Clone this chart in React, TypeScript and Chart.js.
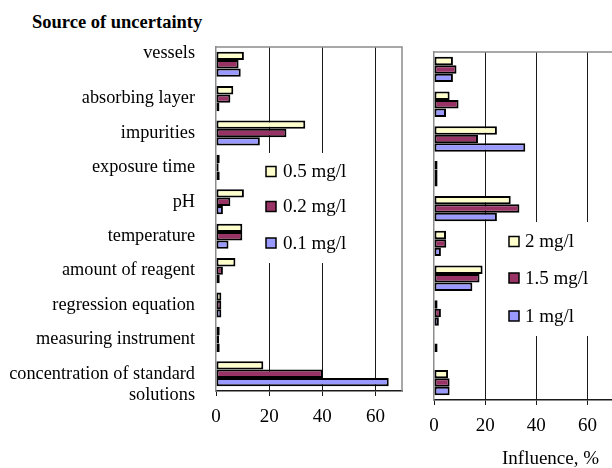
import React, { useEffect, useRef } from "react";
import Chart from "chart.js/auto";

const categories: (string | string[])[] = [
  ["vessels", ""],
  "absorbing layer",
  "impurities",
  "exposure time",
  "pH",
  "temperature",
  "amount of reagent",
  "regression equation",
  "measuring instrument",
  ["", "concentration of standard", "solutions"],
];

const conc05 = [10.5, 6.5, 33.6, 1.4, 10.5, 9.9, 7.3, 2.0, 1.4, 17.8];
const conc02 = [8.5, 5.4, 26.5, 1.0, 5.4, 9.9, 2.6, 2.0, 1.2, 40.2];
const conc01 = [9.3, 1.3, 16.5, 1.4, 2.6, 4.7, 1.4, 2.0, 1.4, 65];

const conc2 = [7.4, 6.1, 24.6, 1.4, 30, 4.7, 19, 1.4, null, 5.5];
const conc15 = [8.8, 9.6, 17.2, 1.4, 33.4, 4.8, 17.8, 2.7, 1.4, 6.1];
const conc1 = [7.4, 4.7, 35.7, 1.4, 24.6, 2.7, 15, 1.9, null, 6.1];

const leftSeries = ["0.5 mg/l", "0.2 mg/l", "0.1 mg/l"];
const rightSeries = ["2 mg/l", "1.5 mg/l", "1 mg/l"];
const xTickValues = [0, 20, 40, 60];
const xMax = 70;

const COLORS = ["#FFFFCC", "#993366", "#9999FF"];
const FONT = '"Liberation Serif", "Times New Roman", serif';

type LegendSpec = {
  rect: [number, number, number, number];
  boxX: number;
  textX: number;
  ys: number[];
  labels: string[];
};

function makeLegendPlugin(spec: LegendSpec) {
  return {
    id: "customLegend",
    afterDraw(chart: any) {
      const ctx = chart.ctx;
      ctx.save();
      ctx.fillStyle = "#ffffff";
      const [x, y, w, h] = spec.rect;
      ctx.fillRect(x, y, w, h);
      ctx.font = `19px ${FONT}`;
      ctx.textBaseline = "middle";
      ctx.textAlign = "left";
      spec.labels.forEach((lab, i) => {
        const cy = spec.ys[i];
        ctx.fillStyle = COLORS[i];
        ctx.fillRect(spec.boxX, cy - 5, 10, 10);
        ctx.strokeStyle = "#000";
        ctx.lineWidth = 1.5;
        ctx.strokeRect(spec.boxX, cy - 5, 10, 10);
        ctx.fillStyle = "#000";
        ctx.fillText(lab, spec.textX, cy + 1);
      });
      ctx.restore();
    },
  };
}

const borderPlugin = {
  id: "frameBorder",
  beforeDatasetsDraw(chart: any) {
    const { ctx, chartArea } = chart;
    ctx.save();
    ctx.strokeStyle = "#8c8c8c";
    ctx.lineWidth = 1.5;
    ctx.beginPath();
    ctx.moveTo(chartArea.left, chartArea.top);
    ctx.lineTo(chartArea.right, chartArea.top);
    ctx.lineTo(chartArea.right, chartArea.bottom);
    ctx.stroke();
    ctx.restore();
  },
};

function buildConfig(
  series: (number | null)[][],
  labels: string[],
  showCats: boolean,
  yWidth: number,
  xHeight: number,
  padding: any,
  legend: LegendSpec
): any {
  return {
    type: "bar",
    data: {
      labels: categories,
      datasets: series.map((d, i) => ({
        label: labels[i],
        data: d,
        backgroundColor: COLORS[i],
        borderColor: "#000",
        borderWidth: 2,
        borderSkipped: false,
        categoryPercentage: 0.73,
        barPercentage: 1,
      })),
    },
    options: {
      indexAxis: "y",
      responsive: false,
      animation: false,
      devicePixelRatio: 1,
      layout: { padding },
      plugins: { legend: { display: false }, tooltip: { enabled: false } },
      scales: {
        x: {
          min: 0,
          max: xMax,
          afterBuildTicks: (scale: any) => {
            scale.ticks = xTickValues.map((v) => ({ value: v }));
          },
          afterFit: (scale: any) => {
            scale.height = xHeight;
          },
          grid: {
            color: (c: any) => (c.tick && c.tick.value === 0 ? "rgba(0,0,0,0)" : "#1a1a1a"),
            tickColor: "#1a1a1a",
            tickLength: 5,
            lineWidth: 1,
          },
          border: { display: true, color: "#1a1a1a", width: 1.5 },
          ticks: {
            color: "#000",
            font: { family: FONT, size: 19 },
            padding: 10,
            maxRotation: 0,
          },
        },
        y: {
          afterFit: (scale: any) => {
            scale.width = yWidth;
          },
          grid: { display: false },
          border: { display: true, color: "#8c8c8c", width: 1.5 },
          ticks: {
            display: showCats,
            autoSkip: false,
            color: "#000",
            font: { family: FONT, size: 18.3, lineHeight: 1.15 },
            padding: 13,
          },
        },
      },
    },
    plugins: [borderPlugin, makeLegendPlugin(legend)],
  };
}

function ChartCanvas({ config, width, height, style }: any) {
  const ref = useRef<HTMLCanvasElement | null>(null);
  useEffect(() => {
    if (!ref.current) return;
    const chart = new Chart(ref.current, config);
    return () => chart.destroy();
  }, []);
  return <canvas ref={ref} width={width} height={height} style={{ position: "absolute", ...style }} />;
}

export default function App() {
  const leftConfig = buildConfig(
    [conc05, conc02, conc01],
    leftSeries,
    true,
    216,
    77,
    { top: 47, right: 8, left: 0, bottom: 0 },
    { rect: [259, 153, 112, 110], boxX: 266, textX: 283, ys: [171.5, 206.5, 243], labels: leftSeries }
  );
  const rightConfig = buildConfig(
    [conc2, conc15, conc1],
    rightSeries,
    false,
    24,
    68,
    { top: 52, right: 27, left: 0, bottom: 0 },
    { rect: [88, 222, 142, 114], boxX: 99, textX: 115, ys: [241.5, 278, 316], labels: rightSeries }
  );
  return (
    <div
      style={{
        position: "fixed",
        left: 0,
        top: 0,
        width: 612,
        height: 468,
        overflow: "hidden",
        background: "#fff",
        fontFamily: FONT,
      }}
    >
      <div
        style={{
          position: "absolute",
          left: 32,
          top: 10,
          fontSize: 18.5,
          fontWeight: "bold",
          lineHeight: "24px",
          whiteSpace: "nowrap",
          color: "#000",
        }}
      >
        Source of uncertainty
      </div>
      <ChartCanvas config={leftConfig} width={410} height={468} style={{ left: 0, top: 0 }} />
      <ChartCanvas config={rightConfig} width={230} height={468} style={{ left: 410, top: 0 }} />
      <div
        style={{
          position: "absolute",
          left: 502,
          top: 446,
          fontSize: 19,
          lineHeight: "24px",
          whiteSpace: "nowrap",
          color: "#000",
        }}
      >
        Influence, %
      </div>
    </div>
  );
}
